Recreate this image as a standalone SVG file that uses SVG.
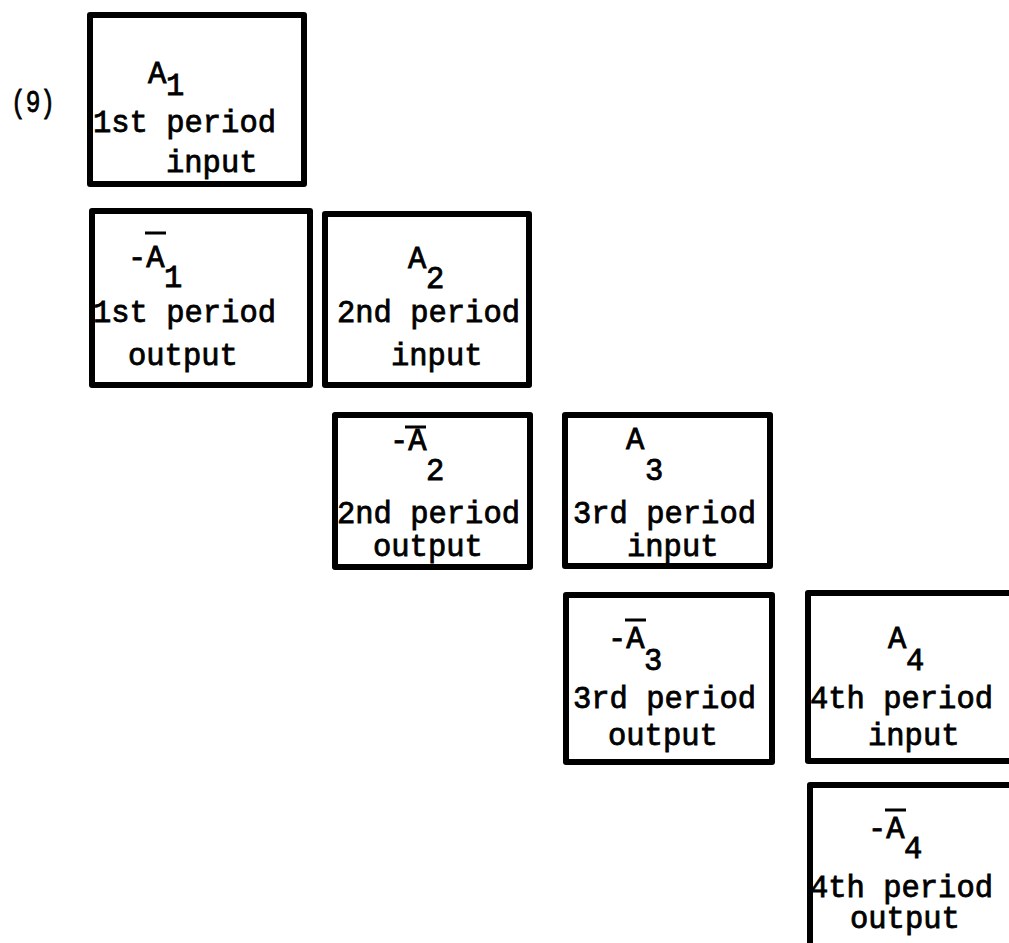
<svg xmlns="http://www.w3.org/2000/svg" width="1009" height="943" viewBox="0 0 1009 943">
<style>
.box{fill:none;stroke:#000;stroke-width:6;stroke-linejoin:round}
.t{font-family:"Liberation Mono","Courier New",monospace;font-size:30.5px;fill:#000;stroke:#000;stroke-width:0.8}
.lbl{font-family:"Liberation Mono","Courier New",monospace;font-size:31px;fill:#000;stroke:#000;stroke-width:0.8}
.bar{stroke:#000;stroke-width:3}
</style>
<rect width="1009" height="943" fill="#fff"/>
<text class="lbl" x="11" y="112" textLength="44" lengthAdjust="spacingAndGlyphs">(9)</text>
<g id="connectors"></g>
<g id="n1">
<rect class="box" x="90" y="15" width="214" height="169"/>
<text class="t" x="148" y="83">A</text>
<text class="t" x="166" y="95">1</text>
<text class="t" x="93" y="132">1st period</text>
<text class="t" x="166" y="172">input</text>
</g>
<g id="n2">
<rect class="box" x="92" y="211" width="218" height="174"/>
<line class="bar" x1="145" y1="233" x2="166" y2="233"/>
<text class="t" x="128" y="267">-A</text>
<text class="t" x="164" y="287">1</text>
<text class="t" x="93" y="322">1st period</text>
<text class="t" x="128" y="365">output</text>
</g>
<g id="n3">
<rect class="box" x="325" y="214" width="204" height="171"/>
<text class="t" x="408" y="268">A</text>
<text class="t" x="426" y="288">2</text>
<text class="t" x="337" y="322">2nd period</text>
<text class="t" x="391" y="365">input</text>
</g>
<g id="n4">
<rect class="box" x="335" y="415" width="195" height="152"/>
<line class="bar" x1="405" y1="427" x2="426" y2="427"/>
<text class="t" x="390" y="450">-A</text>
<text class="t" x="426" y="480">2</text>
<text class="t" x="337" y="523">2nd period</text>
<text class="t" x="373" y="556">output</text>
</g>
<g id="n5">
<rect class="box" x="565" y="415" width="205" height="151"/>
<text class="t" x="626" y="449">A</text>
<text class="t" x="645" y="480">3</text>
<text class="t" x="573" y="523">3rd period</text>
<text class="t" x="627" y="556">input</text>
</g>
<g id="n6">
<rect class="box" x="566" y="595" width="206" height="167"/>
<line class="bar" x1="625" y1="620" x2="646" y2="620"/>
<text class="t" x="608" y="648">-A</text>
<text class="t" x="644" y="670">3</text>
<text class="t" x="573" y="708">3rd period</text>
<text class="t" x="608" y="745">output</text>
</g>
<g id="n7">
<rect class="box" x="808" y="593" width="210" height="168"/>
<text class="t" x="888" y="648">A</text>
<text class="t" x="906" y="670">4</text>
<text class="t" x="810" y="708">4th period</text>
<text class="t" x="868" y="745">input</text>
</g>
<g id="n8">
<rect class="box" x="810" y="785" width="210" height="170"/>
<line class="bar" x1="885" y1="810" x2="906" y2="810"/>
<text class="t" x="868" y="838">-A</text>
<text class="t" x="904" y="858">4</text>
<text class="t" x="810" y="897">4th period</text>
<text class="t" x="850" y="928">output</text>
</g>
</svg>
